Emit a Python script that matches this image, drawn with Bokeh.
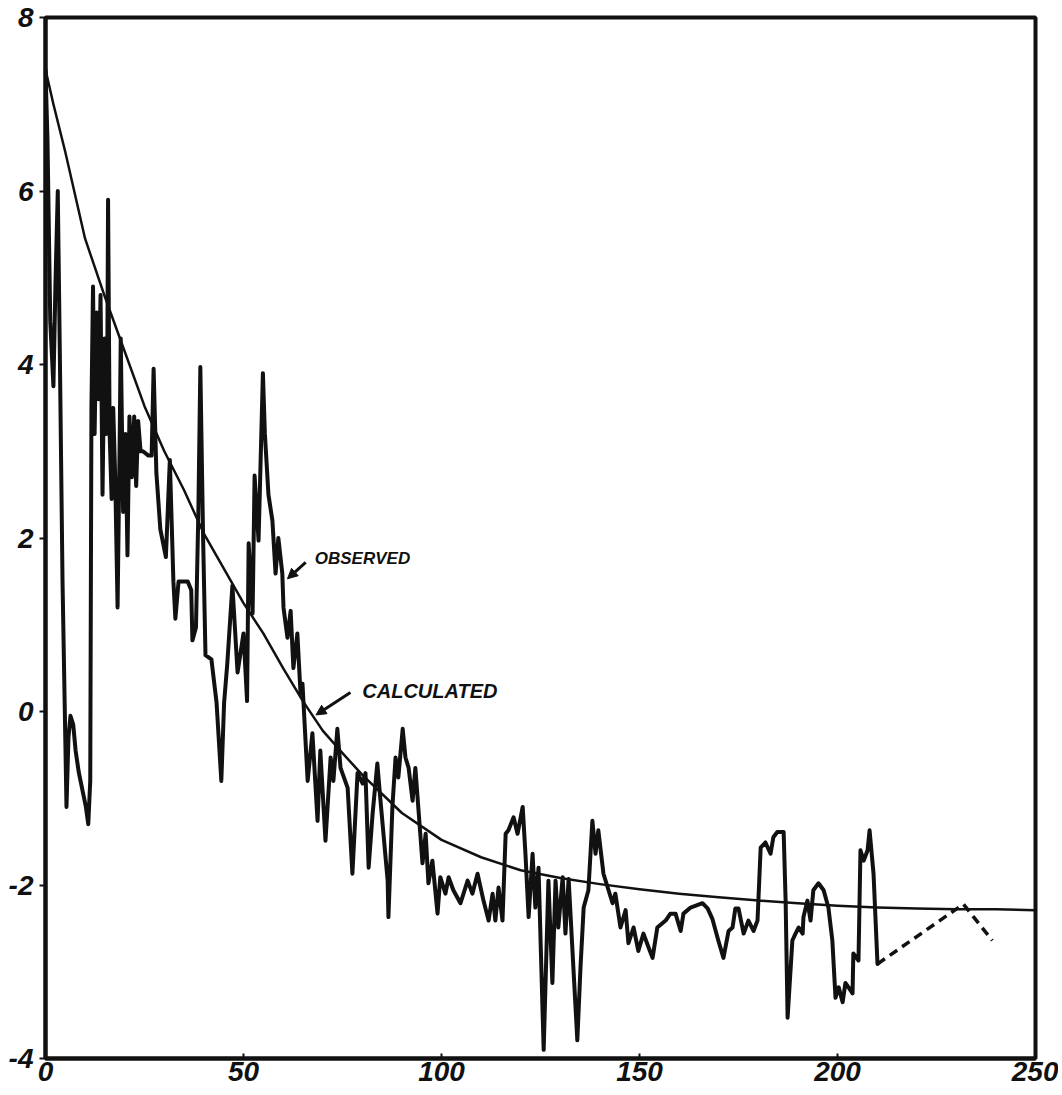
from bokeh.plotting import figure
from bokeh.models import FixedTicker, Range1d, Arrow, NormalHead, Label
from bokeh.embed import file_html
from bokeh.resources import INLINE

# ---------------- data ----------------
x_ticks = [0, 50, 100, 150, 200, 250]
x_tick_labels = ["0", "50", "100", "150", "200", "250"]
y_ticks = [-4, -2, 0, 2, 4, 6, 8]
y_tick_labels = ["-4", "-2", "0", "2", "4", "6", "8"]

calc_x = [0, 2, 5, 10, 15, 20, 25, 30, 35, 40, 45, 50, 55, 60, 65, 70, 75, 80,
          90, 100, 110, 120, 130, 140, 150, 160, 170, 180, 190, 200, 210, 220,
          230, 240, 250]
calc_y = [7.40, 7.00, 6.45, 5.45, 4.78, 4.15, 3.52, 3.00, 2.55, 2.05, 1.65, 1.25,
          0.90, 0.50, 0.12, -0.22, -0.48, -0.73, -1.17, -1.48, -1.68, -1.83,
          -1.92, -1.99, -2.05, -2.10, -2.14, -2.18, -2.21, -2.24, -2.26, -2.27,
          -2.28, -2.28, -2.29]

obs_x = [0.0, 0.5, 1.2, 2.0, 2.5, 3.1, 3.6, 4.3, 5.3, 5.8,
         6.3, 7.0, 7.6, 8.4, 9.3, 10.2, 10.8, 11.3, 11.6, 12.0,
         12.4, 12.9, 13.4, 13.9, 14.4, 14.9, 15.3, 15.6, 15.8, 16.2,
         16.7, 17.1, 17.6, 18.2, 18.7, 19.0, 19.6, 20.2, 20.7, 21.2,
         21.8, 22.4, 22.9, 23.4, 24.0, 24.6, 26.0, 26.8, 27.3, 28.0,
         29.0, 30.4, 31.4, 32.3, 32.8, 33.6, 35.9, 36.8, 37.1, 38.0,
         38.6, 39.1, 39.8, 40.4, 41.9, 43.2, 44.4, 45.1, 45.9, 47.2,
         48.5, 50.0, 50.9, 51.3, 52.3, 52.8, 53.8, 54.9, 55.4, 56.3,
         57.3, 58.1, 58.8, 59.8, 60.1, 61.1, 61.9, 62.6, 63.6, 64.4,
         64.9, 66.2, 67.4, 68.7, 69.4, 70.7, 72.0, 72.7, 73.7, 74.5,
         76.3, 77.5, 78.8, 80.1, 80.8, 81.6, 82.6, 83.8, 84.6, 86.4,
         86.6, 87.6, 88.4, 89.1, 90.2, 90.9, 91.7, 92.7, 93.4, 94.2,
         95.2, 96.0, 96.7, 97.7, 99.0, 99.7, 101.0, 101.8, 103.0, 104.8,
         106.6, 107.8, 109.1, 110.6, 111.9, 112.9, 113.6, 114.4, 115.4, 116.2,
         116.9, 118.2, 119.2, 120.5, 121.2, 122.0, 123.0, 123.7, 124.5, 125.8,
         127.0, 128.0, 128.8, 129.5, 130.6, 131.3, 132.1, 133.3, 134.3, 135.1,
         135.9, 137.1, 138.1, 138.9, 139.6, 140.9, 143.2, 143.9, 145.2, 146.5,
         147.2, 148.5, 149.7, 151.0, 152.3, 153.3, 154.5, 156.6, 157.8, 159.1,
         160.4, 161.1, 162.9, 165.9, 167.2, 168.4, 169.9, 171.2, 172.5, 173.5,
         174.2, 175.0, 176.3, 177.5, 178.8, 179.8, 180.6, 181.8, 183.1, 183.8,
         184.8, 186.4, 186.9, 187.4, 188.6, 189.4, 190.2, 191.2, 191.4, 192.4,
         193.2, 193.9, 195.2, 196.5, 197.7, 198.7, 199.5, 200.3, 201.3, 202.0,
         202.8, 203.8, 204.0, 205.3, 205.8, 206.6, 207.6, 208.1, 209.1, 210.1]
obs_y = [7.4, 6.6, 4.5, 3.75, 4.9, 6.0, 4.2, 1.5, -1.1, -0.3,
         -0.05, -0.15, -0.45, -0.7, -0.9, -1.1, -1.3, -0.8, 3.5, 4.9,
         3.2, 4.6, 3.6, 4.8, 2.5, 4.3, 3.2, 4.0, 5.9, 3.2,
         2.45, 3.5, 2.7, 1.2, 3.0, 4.3, 2.3, 3.2, 1.8, 3.4,
         2.7, 3.4, 2.6, 3.35, 3.0, 3.0, 2.95, 2.95, 3.95, 2.75,
         2.1, 1.78, 2.9, 1.5, 1.07, 1.5, 1.5, 1.4, 0.82, 0.97,
         2.3, 3.97, 2.0, 0.65, 0.6, 0.1, -0.8, 0.1, 0.55, 1.45,
         0.45, 0.9, 0.12, 1.94, 1.13, 2.72, 1.97, 3.9, 3.2, 2.5,
         2.2, 1.59, 2.0, 1.59, 1.2, 0.85, 1.16, 0.5, 0.9, 0.21,
         0.32, -0.8, -0.25, -1.26, -0.45, -1.49, -0.53, -0.8, -0.2, -0.65,
         -0.88, -1.87, -0.71, -0.83, -0.71, -1.8, -1.18, -0.6, -1.03, -1.95,
         -2.37, -1.1, -0.53, -0.76, -0.2, -0.53, -0.65, -1.03, -0.65, -1.14,
         -1.75, -1.41, -1.98, -1.72, -2.33, -1.91, -2.1, -1.91, -2.06, -2.21,
         -1.95, -2.1, -1.87, -2.18, -2.41, -2.1, -2.41, -2.03, -2.41, -1.41,
         -1.37, -1.22, -1.41, -1.1, -1.64, -2.37, -1.64, -2.26, -1.8, -3.9,
         -1.95, -3.13, -1.95, -2.49, -1.91, -2.56, -1.93, -2.95, -3.79, -2.95,
         -2.26, -2.06, -1.26, -1.64, -1.37, -1.87, -2.21, -2.1, -2.49, -2.29,
         -2.67, -2.49, -2.76, -2.56, -2.72, -2.84, -2.49, -2.41, -2.33, -2.33,
         -2.53, -2.33, -2.26, -2.21, -2.27, -2.39, -2.64, -2.84, -2.53, -2.49,
         -2.27, -2.27, -2.56, -2.41, -2.53, -2.41, -1.57, -1.51, -1.64, -1.45,
         -1.39, -1.39, -2.18, -3.53, -2.64, -2.56, -2.49, -2.56, -2.37, -2.18,
         -2.41, -2.06, -1.98, -2.06, -2.26, -2.64, -3.3, -3.18, -3.35, -3.13,
         -3.18, -3.25, -2.79, -2.87, -1.6, -1.72, -1.6, -1.37, -1.87, -2.91]

dash_x = [210.1, 231.8, 239.1]
dash_y = [-2.91, -2.22, -2.64]

obs_label = "OBSERVED"
calc_label = "CALCULATED"

assert len(obs_x) == len(obs_y)
assert len(calc_x) == len(calc_y)

# ---------------- figure ----------------
INK = "#111111"
FONT = "Liberation Sans"

p = figure(width=1058, height=1090,
           x_range=Range1d(0, 250), y_range=Range1d(-4, 8),
           output_backend="svg", toolbar_location=None,
           min_border_left=45, min_border_right=23,
           min_border_top=17, min_border_bottom=32)

p.grid.visible = False
p.background_fill_color = "white"
p.border_fill_color = "white"
p.outline_line_color = INK
p.outline_line_width = 4

for ax in (p.xaxis[0], p.yaxis[0]):
    ax.axis_line_color = INK
    ax.axis_line_width = 4
    ax.major_tick_line_color = INK
    ax.major_tick_line_width = 2
    ax.minor_tick_line_color = None
    ax.major_label_text_font = FONT
    ax.major_label_text_font_style = "bold italic"
    ax.major_label_text_font_size = "28px"
    ax.major_label_text_color = INK

p.xaxis[0].ticker = FixedTicker(ticks=x_ticks)
p.xaxis[0].major_label_overrides = dict(zip(x_ticks, x_tick_labels))
p.xaxis[0].major_tick_in = 5
p.xaxis[0].major_tick_out = 0
p.xaxis[0].major_label_standoff = 3

p.yaxis[0].ticker = FixedTicker(ticks=y_ticks)
p.yaxis[0].major_label_overrides = dict(zip(y_ticks, y_tick_labels))
p.yaxis[0].major_tick_in = 0
p.yaxis[0].major_tick_out = 6
p.yaxis[0].major_label_standoff = 6

# calculated curve
p.line(calc_x, calc_y, line_color=INK, line_width=2.5, line_join="round")
# observed trace
p.line(obs_x, obs_y, line_color=INK, line_width=4, line_join="round", line_cap="round")
# dashed extension
p.line(dash_x, dash_y, line_color=INK, line_width=3.5, line_dash="9 6")

# annotations
p.add_layout(Label(x=68.0, y=1.76, text=obs_label, text_font=FONT,
                   text_font_style="bold italic", text_font_size="17px",
                   text_color=INK, text_baseline="middle"))
p.add_layout(Label(x=80.0, y=0.24, text=calc_label, text_font=FONT,
                   text_font_style="bold italic", text_font_size="20px",
                   text_color=INK, text_baseline="middle"))
p.add_layout(Arrow(x_start=65.7, y_start=1.72, x_end=61.1, y_end=1.53,
                   line_color=INK, line_width=3,
                   end=NormalHead(size=10, fill_color=INK, line_color=INK)))
p.add_layout(Arrow(x_start=77.0, y_start=0.22, x_end=68.3, y_end=-0.04,
                   line_color=INK, line_width=3,
                   end=NormalHead(size=10, fill_color=INK, line_color=INK)))

open("out.html", "w").write(file_html(p, INLINE))
